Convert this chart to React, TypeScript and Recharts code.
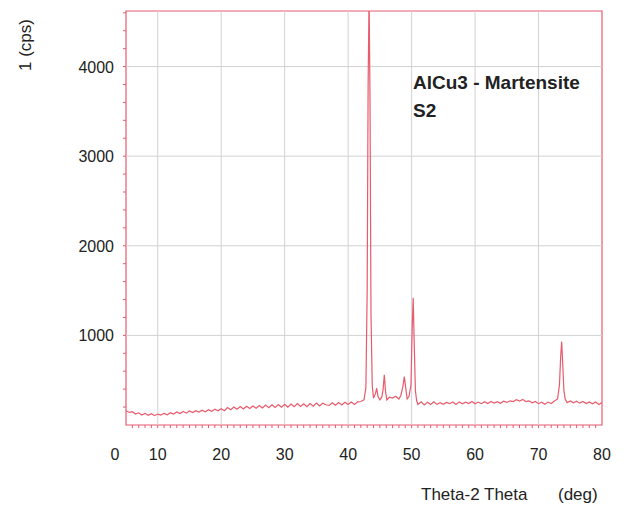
import { LineChart, Line, XAxis, YAxis, ReferenceLine, ReferenceArea } from 'recharts';

// XRD scan, AlCu3 martensite sample S2
const thetaDeg = [
  5, 5.5, 6, 6.5, 7, 7.5, 8, 8.5, 9, 9.5, 10, 10.5, 11, 11.5, 12, 12.5, 13, 13.5, 14, 14.5,
  15, 15.5, 16, 16.5, 17, 17.5, 18, 18.5, 19, 19.5, 20, 20.5, 21, 21.5, 22, 22.5, 23, 23.5, 24, 24.5,
  25, 25.5, 26, 26.5, 27, 27.5, 28, 28.5, 29, 29.5, 30, 30.5, 31, 31.5, 32, 32.5, 33, 33.5, 34, 34.5,
  35, 35.5, 36, 36.5, 37, 37.5, 38, 38.5, 39, 39.5, 40, 40.5, 41, 41.5, 42, 42.5, 42.8, 43.0, 43.15, 43.3,
  43.45, 43.6, 43.8, 44.0, 44.3, 44.5, 44.7, 45.0, 45.3, 45.5, 45.7, 45.9, 46.1, 46.5, 47, 47.5, 48, 48.3, 48.6, 48.85,
  49.1, 49.3, 49.6, 49.9, 50.1, 50.25, 50.4, 50.6, 50.8, 51, 51.5, 52, 52.5, 53, 53.5, 54, 54.5, 55, 55.5, 56,
  56.5, 57, 57.5, 58, 58.5, 59, 59.5, 60, 60.5, 61, 61.5, 62, 62.5, 63, 63.5, 64, 64.5, 65, 65.5, 66,
  66.5, 67, 67.5, 68, 68.5, 69, 69.5, 70, 70.5, 71, 71.5, 72, 72.5, 73, 73.3, 73.5, 73.65, 73.8, 74.0, 74.2,
  74.5, 75, 75.5, 76, 76.5, 77, 77.5, 78, 78.5, 79, 79.5, 80,
];
const intensityCps = [
  160, 140, 148, 122, 136, 112, 130, 108, 126, 104, 122, 110, 130, 114, 138, 122, 146, 128, 150, 132,
  156, 138, 160, 144, 166, 148, 170, 152, 176, 158, 182, 160, 194, 170, 200, 176, 206, 180, 210, 184,
  212, 188, 218, 190, 222, 194, 226, 196, 228, 198, 230, 200, 234, 204, 238, 206, 236, 204, 240, 210,
  244, 212, 242, 226, 218, 248, 220, 250, 224, 254, 228, 256, 230, 258, 262, 280, 420, 1500, 3800, 4800,
  3600, 1250, 440, 300, 350, 410, 320, 280, 310, 390, 560, 370, 280, 310, 300, 320, 290, 330, 420, 540,
  400, 290, 320, 450, 1100, 1420, 950, 380, 270, 230, 260, 225, 255, 228, 258, 230, 250, 232, 252, 238,
  256, 230, 258, 236, 254, 240, 262, 236, 256, 238, 260, 240, 262, 244, 260, 242, 266, 252, 270, 262,
  282, 266, 286, 262, 270, 248, 262, 238, 254, 232, 256, 240, 268, 290, 450, 780, 930, 700, 380, 290,
  250, 268, 248, 266, 244, 262, 240, 258, 236, 256, 228, 250,
];

const xGrid = [10, 20, 30, 40, 50, 60, 70];
const yGrid = [1000, 2000, 3000, 4000];
const xLabels = [10, 20, 30, 40, 50, 60, 70, 80];

const data = thetaDeg.map((t, i) => ({ theta: t, cps: intensityCps[i] }));
const xMinor = Array.from({ length: 76 }, (_, i) => 5 + i);
const yMinor = Array.from({ length: 24 }, (_, i) => i * 200);

const FRAME = '#e65a70';
const GRID = '#d2d2d2';
const FONT = '"Liberation Sans", Arial, sans-serif';

const XTick = (props: any) => {
  const { x, y, payload } = props;
  const v = payload.value;
  const label = v === 5 ? '0' : xLabels.includes(v) ? String(v) : null;
  return (
    <g>
      {v > 5 && v < 80 ? <line x1={x} x2={x} y1={y} y2={y + 3} stroke={FRAME} /> : null}
      {label ? (
        <text x={v === 5 ? x - 11 : x} y={y + 35} textAnchor="middle" fontSize={16} fill="#222" fontFamily={FONT}>
          {label}
        </text>
      ) : null}
    </g>
  );
};

const YTick = (props: any) => {
  const { x, y, payload } = props;
  const v = payload.value;
  return (
    <g>
      {v > 0 ? <line x1={x - 3} x2={x} y1={y} y2={y} stroke={FRAME} /> : null}
      {yGrid.includes(v) ? (
        <text x={x - 12} y={y + 6} textAnchor="end" fontSize={16} fill="#222" fontFamily={FONT}>
          {v}
        </text>
      ) : null}
    </g>
  );
};

export default function App() {
  return (
    <div style={{ position: 'absolute', left: 0, top: 0, width: 627, height: 509, background: '#fff' }}>
      <LineChart width={627} height={509} data={data} margin={{ top: 11, right: 25, bottom: 44, left: 66 }}>
        <XAxis
          dataKey="theta"
          type="number"
          domain={[5, 80]}
          ticks={xMinor}
          interval={0}
          allowDataOverflow
          axisLine={false}
          tickLine={false}
          tickSize={0}
          tickMargin={0}
          height={40}
          tick={<XTick />}
        />
        <YAxis
          type="number"
          domain={[0, 4620]}
          ticks={yMinor}
          interval={0}
          allowDataOverflow
          axisLine={false}
          tickLine={false}
          tickSize={0}
          tickMargin={0}
          width={60}
          tick={<YTick />}
        />
        {xGrid.map((v) => (
          <ReferenceLine key={`gx-${v}`} x={v} stroke={GRID} strokeWidth={1} />
        ))}
        {yGrid.map((v) => (
          <ReferenceLine key={`gy-${v}`} y={v} stroke={GRID} strokeWidth={1} />
        ))}
        <Line
          type="linear"
          dataKey="cps"
          stroke="#e85a6c"
          strokeWidth={1.2}
          dot={false}
          isAnimationActive={false}
        />
        <ReferenceArea x1={5} x2={80} y1={0} y2={4620} fill="none" stroke={FRAME} strokeWidth={1.2} />
      </LineChart>
      <svg width={627} height={509} style={{ position: 'absolute', left: 0, top: 0, pointerEvents: 'none' }}>
        <text x={413} y={89} fontSize={19} fontWeight="bold" fill="#222" fontFamily={FONT}>
          AlCu3 - Martensite
        </text>
        <text x={413} y={117} fontSize={19} fontWeight="bold" fill="#222" fontFamily={FONT}>
          S2
        </text>
        <text
          transform="translate(31, 45) rotate(-90)"
          textAnchor="middle"
          fontSize={17}
          fill="#222"
          fontFamily={FONT}
        >
          1 (cps)
        </text>
        <text x={421} y={500} fontSize={17} fill="#222" fontFamily={FONT}>
          Theta-2 Theta
        </text>
        <text x={558} y={500} fontSize={17} fill="#222" fontFamily={FONT}>
          (deg)
        </text>
      </svg>
    </div>
  );
}
